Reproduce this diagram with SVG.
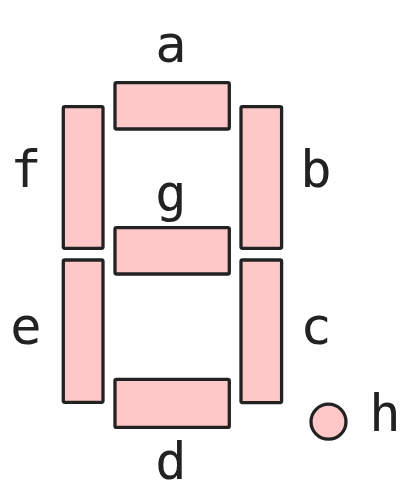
<svg xmlns="http://www.w3.org/2000/svg" width="411" height="502" viewBox="0 0 411 502">
<style>
.seg{fill:#ffc8c8;stroke:#222;stroke-width:3.3;stroke-linejoin:round}
.lbl{font-family:"DejaVu Sans Mono",monospace;font-size:52px;fill:#222;text-anchor:middle}
</style>
<rect width="411" height="502" fill="#fff"/>
<g id="seg-a"><rect class="seg" x="115" y="82.7" width="114.3" height="46.3" rx="1.5"/><text class="lbl" x="171" y="61.5">a</text></g>
<g id="seg-b"><rect class="seg" x="241" y="106.7" width="40.6" height="141.6" rx="1.5"/><text class="lbl" x="316" y="187">b</text></g>
<g id="seg-c"><rect class="seg" x="241" y="260" width="40.6" height="142.6" rx="1.5"/><text class="lbl" x="316" y="344">c</text></g>
<g id="seg-d"><rect class="seg" x="115" y="379.4" width="114.3" height="48" rx="1.5"/><text class="lbl" x="171" y="479">d</text></g>
<g id="seg-e"><rect class="seg" x="63.3" y="260" width="39.7" height="142.3" rx="1.5"/><text class="lbl" x="26" y="343.5">e</text></g>
<g id="seg-f"><rect class="seg" x="63.3" y="106.7" width="39.7" height="141.6" rx="1.5"/><text class="lbl" x="26" y="186.5">f</text></g>
<g id="seg-g"><rect class="seg" x="115" y="227.7" width="114.3" height="46.3" rx="1.5"/><text class="lbl" x="171" y="211">g</text></g>
<g id="seg-h"><circle class="seg" cx="328.5" cy="421.7" r="17.5"/><text class="lbl" x="385" y="430.5">h</text></g>
<g id="connectors"/>
</svg>
